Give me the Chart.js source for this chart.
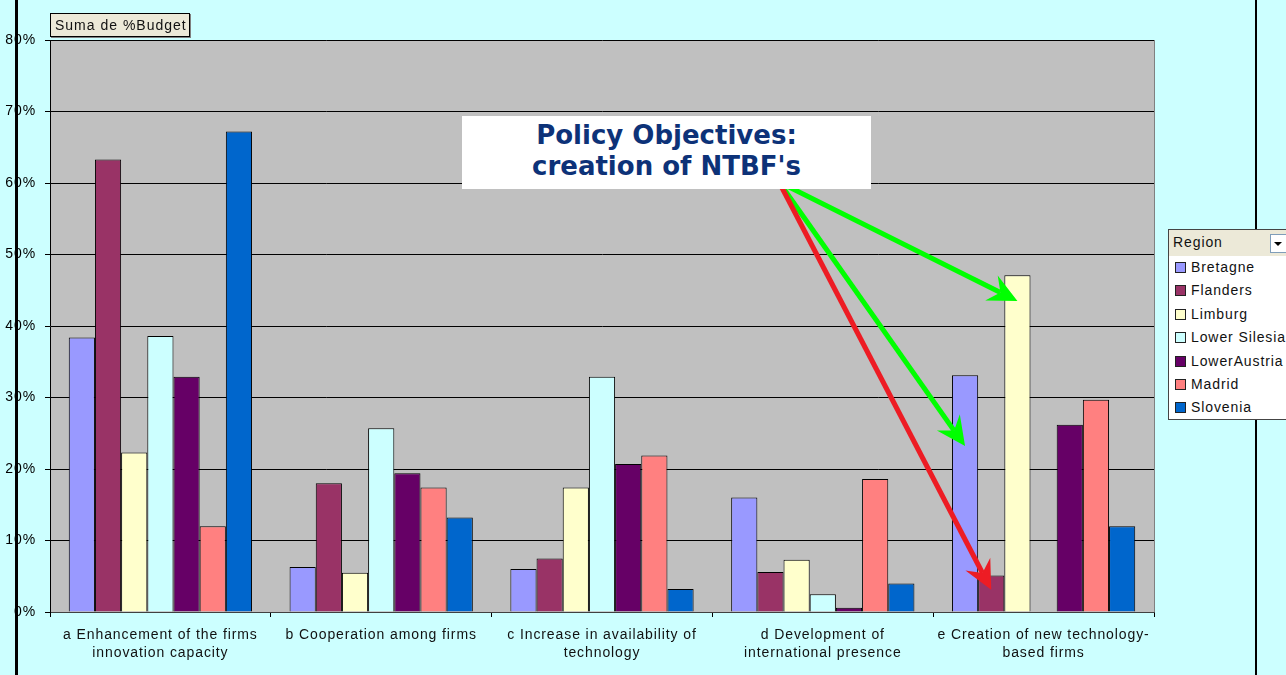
<!DOCTYPE html>
<html>
<head>
<meta charset="utf-8">
<script src="https://cdn.jsdelivr.net/npm/chart.js@4/dist/chart.umd.min.js"></script>
<style>
  html, body { margin:0; padding:0; }
  body { width:1286px; height:675px; overflow:hidden; background:#CCFFFF; position:relative; font-family:"Liberation Sans", Arial, sans-serif; }
  .frameL { position:absolute; left:15px; top:0; width:3px; height:675px; background:#000; }
  .frameR { position:absolute; left:1255px; top:0; width:2px; height:675px; background:#000; }
  #wrap { position:absolute; left:0; top:0; width:1286px; height:675px; }
  .fieldBtn { position:absolute; left:50px; top:13px; background:#ECE9D8; border:1px solid #000; box-shadow:1px 1px 0 #808080; font-size:14px; letter-spacing:1px; color:#111; line-height:22px; padding-left:4px; box-sizing:border-box; width:140px; height:24px; }
  .note { position:absolute; left:462px; top:116px; width:409px; height:73px; background:#fff; text-align:center; color:#0D3278; font-family:"DejaVu Sans", Verdana, sans-serif; font-weight:bold; font-size:26px; line-height:31px; padding-top:4px; box-sizing:border-box; }
  .legend { position:absolute; left:1168px; top:229px; width:130px; height:191px; background:#fff; border:1px solid #444; box-sizing:border-box; font-size:14px; color:#111; letter-spacing:0.9px; }
  .legend .hdr { height:26px; background:#ECE9D8; line-height:24px; padding-left:4px; position:relative; }
  .legend .dd { position:absolute; left:101px; top:4px; width:17px; height:19px; background:#fff; border:1px solid #7F9DB9; box-sizing:border-box; }
  .legend .dd:after { content:""; position:absolute; left:3px; top:7px; border-left:4px solid transparent; border-right:4px solid transparent; border-top:4px solid #000; }
  .legend .row { height:23.4px; line-height:23.4px; padding-left:6px; white-space:nowrap; }
  .legend .sw { display:inline-block; width:9px; height:9px; border:1px solid #222; margin-right:5px; vertical-align:-1px; }
</style>
</head>
<body>
<div class="frameL"></div>
<div class="frameR"></div>
<div id="wrap"><canvas id="c" width="1286" height="675"></canvas></div>
<div class="fieldBtn">Suma de %Budget</div>
<div class="note">Policy Objectives:<br>creation of NTBF's</div>
<div class="legend" id="legend"><div class="hdr">Region<div class="dd"></div></div></div>
<script>
// ---- data ----
const categories = [
  ["a Enhancement of the firms", "innovation capacity"],
  ["b Cooperation among firms"],
  ["c Increase in availability of", "technology"],
  ["d Development of", "international presence"],
  ["e Creation of new technology-", "based firms"]
];
const regions = ["Bretagne", "Flanders", "Limburg", "Lower Silesia", "LowerAustria", "Madrid", "Slovenia"];
const bretagne     = [38.4,  6.3,  6.0, 16.0, 33.1];
const flanders     = [63.3, 18.0,  7.5,  5.6,  5.1];
const limburg      = [22.3,  5.5, 17.4,  7.3, 47.1];
const lowerSilesia = [38.6, 25.7, 32.9,  2.5, null];
const lowerAustria = [32.9, 19.4, 20.7,  0.6, 26.2];
const madrid       = [12.0, 17.4, 21.9, 18.6, 29.7];
const slovenia     = [67.2, 13.2,  3.2,  4.0, 12.0];
const yTicks = [0, 10, 20, 30, 40, 50, 60, 70, 80];

// arrow annotations: target series, category index, value pointed at
const arrowSeries = ["Limburg", "Bretagne", "Flanders"];
const arrowCats   = [4, 4, 4];
const arrowValues = [43.5, 23.2, 3.1];

// ---- styles ----
const colors = ["#9999FF", "#993366", "#FFFFCC", "#CCFFFF", "#660066", "#FF8080", "#0066CC"];
const arrowColors = ["#00FF00", "#00FF00", "#ED1C24"];
const seriesData = [bretagne, flanders, limburg, lowerSilesia, lowerAustria, madrid, slovenia];

// HTML legend
const lg = document.getElementById('legend');
regions.forEach((r, i) => {
  const row = document.createElement('div');
  row.className = 'row';
  row.innerHTML = '<span class="sw" style="background:' + colors[i] + '"></span>' + r;
  lg.appendChild(row);
});

const spacing = {
  id: 'spacing',
  beforeDraw(chart) { chart.ctx.letterSpacing = '0.9px'; }
};

const plotBg = {
  id: 'plotBg',
  beforeDraw(chart) {
    const a = chart.chartArea, ctx = chart.ctx;
    ctx.save();
    ctx.fillStyle = '#C0C0C0';
    ctx.fillRect(a.left, a.top, a.right - a.left, a.bottom - a.top);
    ctx.strokeStyle = '#808080';
    ctx.lineWidth = 1;
    ctx.beginPath();
    ctx.moveTo(a.right + 0.5, a.top);
    ctx.lineTo(a.right + 0.5, a.bottom);
    ctx.stroke();
    ctx.restore();
  }
};

const arrows = {
  id: 'arrows',
  afterDatasetsDraw(chart) {
    const ctx = chart.ctx, ys = chart.scales.y;
    const ox = 779, oy = 182;
    ctx.save();
    for (let k = 0; k < arrowSeries.length; k++) {
      const di = regions.indexOf(arrowSeries[k]);
      const el = chart.getDatasetMeta(di).data[arrowCats[k]];
      const tx = el.x, ty = ys.getPixelForValue(arrowValues[k]);
      const dx = tx - ox, dy = ty - oy, len = Math.hypot(dx, dy);
      const ux = dx / len, uy = dy / len, nx = -uy, ny = ux;
      const L = 29, W = 14, N = 19;
      ctx.strokeStyle = arrowColors[k];
      ctx.fillStyle = arrowColors[k];
      ctx.lineWidth = 5;
      ctx.beginPath();
      ctx.moveTo(ox, oy);
      ctx.lineTo(tx - ux * N, ty - uy * N);
      ctx.stroke();
      ctx.beginPath();
      ctx.moveTo(tx, ty);
      ctx.lineTo(tx - ux * L + nx * W, ty - uy * L + ny * W);
      ctx.lineTo(tx - ux * N, ty - uy * N);
      ctx.lineTo(tx - ux * L - nx * W, ty - uy * L - ny * W);
      ctx.closePath();
      ctx.fill();
    }
    ctx.restore();
  }
};

new Chart(document.getElementById('c'), {
  type: 'bar',
  data: {
    labels: categories,
    datasets: regions.map((r, i) => ({
      label: r,
      data: seriesData[i],
      backgroundColor: colors[i],
      borderColor: '#000',
      borderWidth: 1,
      categoryPercentage: 0.83,
      barPercentage: 1.0
    }))
  },
  options: {
    responsive: false,
    animation: false,
    devicePixelRatio: 1,
    layout: { padding: { top: 40, right: 132, bottom: 0, left: 0 } },
    plugins: { legend: { display: false }, tooltip: { enabled: false } },
    scales: {
      x: {
        afterFit(s) { s.height = 63; },
        grid: { display: true, drawOnChartArea: false, drawTicks: true, tickLength: 5, color: '#000', offset: true },
        border: { display: true, color: '#404040', width: 1 },
        ticks: { color: '#111', font: { family: '"Liberation Sans", Arial, sans-serif', size: 14, lineHeight: 1.3 }, padding: 9, maxRotation: 0, autoSkip: false }
      },
      y: {
        min: 0, max: 80,
        afterFit(s) { s.width = 50; },
        afterBuildTicks(s) { s.ticks = yTicks.map(v => ({ value: v })); },
        grid: { color: '#000', lineWidth: 1, tickLength: 5, drawTicks: true },
        border: { display: true, color: '#000', width: 1 },
        ticks: { color: '#000', padding: 9, font: { family: '"Liberation Sans", Arial, sans-serif', size: 14 }, callback: v => v + '%' }
      }
    }
  },
  plugins: [spacing, plotBg, arrows]
});
</script>
</body>
</html>
